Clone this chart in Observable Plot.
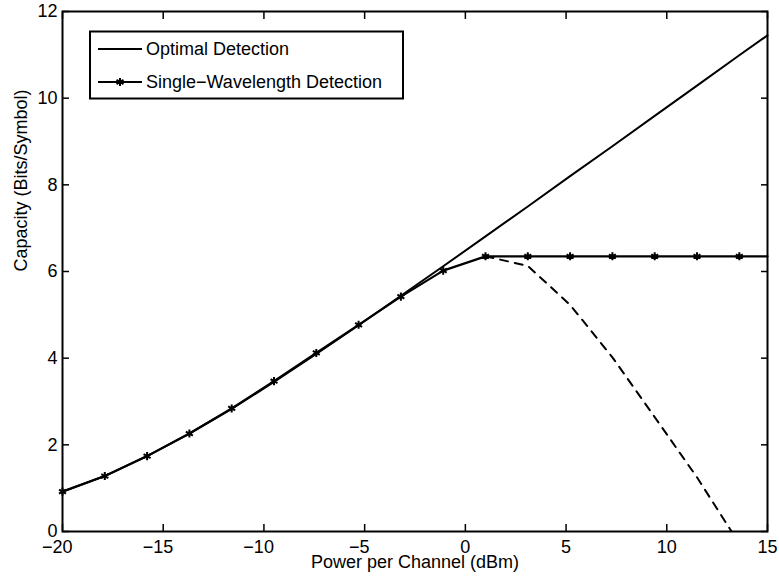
<!DOCTYPE html>
<html><head><meta charset="utf-8">
<script src="https://cdn.jsdelivr.net/npm/d3@7"></script>
<script src="https://cdn.jsdelivr.net/npm/@observablehq/plot@0.6"></script>
<style>
body{margin:0;background:#fff;}
#wrap{position:relative;width:779px;height:580px;}
#wrap svg{font-family:"Liberation Sans",Arial,Helvetica,sans-serif;}
#legend{position:absolute;left:0;top:0;}
</style></head><body><div id="wrap"></div>
<script>
// Data
const power = [-20, -17.9, -15.8, -13.7, -11.6, -9.5, -7.4, -5.3, -3.2, -1.1, 1.0, 3.1, 5.2, 7.3, 9.4, 11.5, 13.6];
const optimalPower = [-20, -17.9, -15.8, -13.7, -11.6, -9.5, -7.4, -5.3, -3.2, -1.1, 1.0, 3.1, 5.2, 7.3, 9.4, 11.5, 13.6, 15];
const optimal = [0.92, 1.28, 1.74, 2.26, 2.83, 3.45, 4.10, 4.76, 5.44, 6.12, 6.81, 7.50, 8.20, 8.89, 9.59, 10.29, 10.99, 11.45];
const singlePower = [-20, -17.9, -15.8, -13.7, -11.6, -9.5, -7.4, -5.3, -3.2, -1.1, 1.0, 3.1, 5.2, 7.3, 9.4, 11.5, 13.6, 15];
const single = [0.92, 1.28, 1.74, 2.26, 2.84, 3.47, 4.12, 4.77, 5.42, 6.02, 6.35, 6.35, 6.35, 6.35, 6.35, 6.35, 6.35, 6.35];
const markerPower = power;
const markerValues = [0.92, 1.28, 1.74, 2.26, 2.84, 3.47, 4.12, 4.77, 5.42, 6.02, 6.35, 6.35, 6.35, 6.35, 6.35, 6.35, 6.35];
const dashedPower = [1.0, 3.1, 5.2, 7.3, 9.4, 11.5, 13.6];
const dashed = [6.35, 6.13, 5.23, 4.02, 2.64, 1.25, -0.28];
const xTicks = [-20, -15, -10, -5, 0, 5, 10, 15];
const yTicks = [0, 2, 4, 6, 8, 10, 12];
const xLabel = "Power per Channel (dBm)";
const yLabel = "Capacity (Bits/Symbol)";
const legendLabels = ["Optimal Detection", "Single\u2212Wavelength Detection"];

const optData = optimalPower.map((p, i) => ({p, v: optimal[i]}));
const singleData = singlePower.map((p, i) => ({p, v: single[i]}));
const markerData = markerPower.map((p, i) => ({p, v: markerValues[i]}));
const dashData = dashedPower.map((p, i) => ({p, v: dashed[i]}));
const fmt = d3.format("d");
const blank = () => "";

const chart = Plot.plot({
  width: 779, height: 580,
  marginLeft: 62, marginRight: 12, marginTop: 11, marginBottom: 49,
  style: {fontFamily: "Liberation Sans, Arial, Helvetica, sans-serif", fontSize: "18px", background: "white", color: "black"},
  x: {domain: [-20, 15]},
  y: {domain: [0, 12]},
  marks: [
    // inward ticks on all four sides
    Plot.axisX(xTicks, {anchor: "bottom", tickSize: -7, tickFormat: blank, label: null, strokeWidth: 1.5}),
    Plot.axisX(xTicks, {anchor: "top", tickSize: -7, tickFormat: blank, label: null, strokeWidth: 1.5}),
    Plot.axisY(yTicks, {anchor: "left", tickSize: -7, tickPadding: 12, tickFormat: fmt, label: null, strokeWidth: 1.5}),
    Plot.axisY(yTicks, {anchor: "right", tickSize: -7, tickFormat: blank, label: null, strokeWidth: 1.5}),
    // x tick labels: digits centred on the tick, minus sign hanging left
    Plot.axisX(xTicks.filter(d => d >= 0), {anchor: "bottom", tickSize: 0, tickPadding: 9, tickFormat: fmt, label: null}),
    Plot.axisX(xTicks.filter(d => d < 0), {anchor: "bottom", tickSize: 0, tickPadding: 9, tickFormat: fmt, label: null, dx: -5.3}),
    Plot.line(optData, {x: "p", y: "v", stroke: "black", strokeWidth: 2}),
    Plot.line(singleData, {x: "p", y: "v", stroke: "black", strokeWidth: 2.2}),
    Plot.line(dashData, {x: "p", y: "v", stroke: "black", strokeWidth: 2, strokeDasharray: "8,7", clip: true}),
    Plot.dot(markerData, {x: "p", y: "v", symbol: "asterisk", r: 3.8, stroke: "black", strokeWidth: 2}),
    Plot.frame({stroke: "black", strokeWidth: 2}),
    Plot.text([xLabel], {frameAnchor: "bottom", dy: 31, lineAnchor: "middle", fontSize: 18, fill: "black"}),
    Plot.text([yLabel], {frameAnchor: "left", dx: -41, rotate: -90, lineAnchor: "middle", fontSize: 18, fill: "black"})
  ]
});
const wrap = document.getElementById("wrap");
wrap.appendChild(chart);

// Legend overlay (inside the plot area, top-left)
const lg = d3.select(wrap).append("svg").attr("id", "legend")
  .attr("width", 779).attr("height", 580)
  .style("font-family", "Liberation Sans, Arial, Helvetica, sans-serif");
lg.append("rect").attr("x", 90).attr("y", 31.5).attr("width", 313).attr("height", 67)
  .attr("fill", "white").attr("stroke", "black").attr("stroke-width", 2);
const rows = [49, 82];
legendLabels.forEach((t, i) => {
  lg.append("line").attr("x1", 98).attr("x2", 142).attr("y1", rows[i]).attr("y2", rows[i])
    .attr("stroke", "black").attr("stroke-width", 2);
  lg.append("text").attr("x", 146).attr("y", rows[i]).attr("dy", "0.35em")
    .attr("font-size", 18).attr("fill", "black").text(t);
});
lg.append("path").attr("transform", `translate(120,${rows[1]})`)
  .attr("d", d3.symbol(d3.symbolAsterisk, Math.PI * 3.8 * 3.8)())
  .attr("fill", "none").attr("stroke", "black").attr("stroke-width", 2);
</script></body></html>
